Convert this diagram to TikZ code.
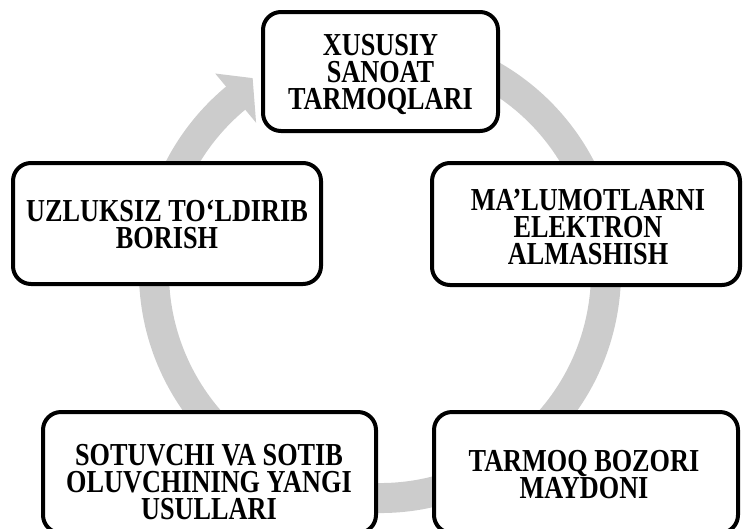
\documentclass[tikz,border=0pt]{standalone}
\usepackage{fontspec}
\setmainfont{Liberation Serif}[FakeStretch=0.82]
\usetikzlibrary{calc}
\definecolor{ringgray}{RGB}{204,204,204}
\begin{document}
\begin{tikzpicture}[x=1pt,y=-1pt]
\tikzset{
  box/.style={draw=black, line width=4pt, rounded corners=18pt, fill=white, inner sep=0pt},
  lbl/.style={font=\fontsize{32}{27}\selectfont\bfseries, align=center, inner sep=0pt},
  ring/.style={draw=ringgray, line width=30pt, line cap=butt},
}
\useasboundingbox (0,0) rectangle (743,528);
\clip (0,0) rectangle (743,528);
\coordinate (c) at (380,272);
% circular arrow
\draw[ring] ($(c)+(-80:226)$) arc[start angle=-80, end angle=230.8, radius=226];
\fill[ringgray] ($(c)+(230.3:194)$) -- ($(c)+(230.3:258)$) -- ($(c)+(236.7:232)$) -- cycle;
% boxes
\node[box, minimum width=235pt, minimum height=119pt] (t) at (380.5,71.5) {};
\node[box, minimum width=308pt, minimum height=121pt] (l) at (167,223.5) {};
\node[box, minimum width=308pt, minimum height=122pt] (r) at (586,224) {};
\node[box, minimum width=333pt, minimum height=121pt] (bl) at (209.5,472.5) {};
\node[box, minimum width=304pt, minimum height=121pt] (br) at (586,472.5) {};
% texts
\node[lbl] (tt) at (380.5,74) {XUSUSIY\\SANOAT\\TARMOQLARI};
\node[lbl] (lt) at (167,224.5) {UZLUKSIZ TO‘LDIRIB\\BORISH};
\node[lbl] (rt) at (588,227.5) {MA’LUMOTLARNI\\ELEKTRON\\ALMASHISH};
\node[lbl] (blt) at (209,482.5) {SOTUVCHI VA SOTIB\\OLUVCHINING YANGI\\USULLARI};
\node[lbl] (brt) at (584,474.5) {TARMOQ BOZORI\\MAYDONI};
\end{tikzpicture}
\end{document}
